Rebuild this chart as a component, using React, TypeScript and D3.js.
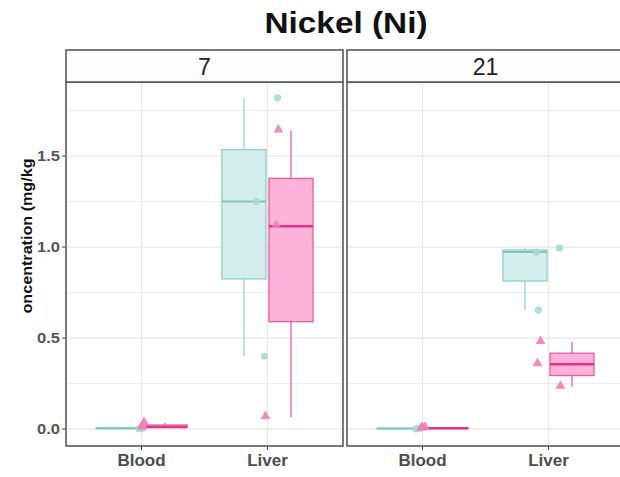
import React from "react";
import * as d3 from "d3";

const title = "Nickel (Ni)";
const yLabel = "oncentration (mg/kg";
const days = ["7", "21"];
const tissues = ["Blood", "Liver"];
const groups = ["A", "B"];
const yTicks = [0, 0.5, 1.0, 1.5];
const yMinor = [0.25, 0.75, 1.25, 1.75];

// values per day / tissue / group
const a7Blood = [0.002, 0.004, 0.006];
const b7Blood = [0.008, 0.012, 0.033];
const a7Liver = [0.4, 1.25, 1.82];
const b7Liver = [0.065, 1.115, 1.64];
const a21Blood = [0.001, 0.003, 0.004];
const b21Blood = [0.002, 0.004, 0.006];
const a21Liver = [0.654, 0.973, 0.995];
const b21Liver = [0.232, 0.356, 0.478];

// jitter (fraction of category step) for each point
const ja7Blood = [-0.02, 0.0, 0.01];
const jb7Blood = [0.0, 0.01, 0.02];
const ja7Liver = [-0.024, -0.087, 0.08];
const jb7Liver = [-0.016, 0.07, 0.087];
const ja21Blood = [-0.055, -0.04, -0.02];
const jb21Blood = [-0.01, 0.0, 0.02];
const ja21Liver = [-0.08, -0.095, 0.087];
const jb21Liver = [0.095, -0.087, -0.063];

const data: Record<string, Record<string, Record<string, number[][]>>> = {
  "7": {
    Blood: { A: [a7Blood, ja7Blood], B: [b7Blood, jb7Blood] },
    Liver: { A: [a7Liver, ja7Liver], B: [b7Liver, jb7Liver] },
  },
  "21": {
    Blood: { A: [a21Blood, ja21Blood], B: [b21Blood, jb21Blood] },
    Liver: { A: [a21Liver, ja21Liver], B: [b21Liver, jb21Liver] },
  },
};

const W = 620;
const H = 477;
const panelTop = 82;
const panelBottom = 446;
const stripTop = 50;
const panelW = 277;
const panelGap = 4;
const panelLeft0 = 66;

const style: Record<string, any> = {
  A: { fill: "#d4eeee", stroke: "#8fcfca", median: "#7ec5bf", point: "#a6d9d4", whisker: "#a8d9d4", medianW: 2 },
  B: { fill: "#ffb2d9", stroke: "#e0609f", median: "#e2338c", point: "#f27db8", whisker: "#e27aaf", medianW: 2.5 },
};

function stats(v: number[]) {
  const s = [...v].sort(d3.ascending);
  const q1 = d3.quantileSorted(s, 0.25)!;
  const med = d3.quantileSorted(s, 0.5)!;
  const q3 = d3.quantileSorted(s, 0.75)!;
  const iqr = q3 - q1;
  const lo = d3.min(s.filter((d) => d >= q1 - 1.5 * iqr))!;
  const hi = d3.max(s.filter((d) => d <= q3 + 1.5 * iqr))!;
  return { q1, med, q3, lo, hi };
}

export default function App() {
  const y = d3.scaleLinear().domain([-0.093, 1.907]).range([panelBottom, panelTop]);
  const x = d3.scalePoint<string>().domain(tissues).range([0, panelW]).padding(0.6);
  const step = x.step();
  const dodge = d3.scaleOrdinal<string, number>().domain(groups).range([-0.187 * step, 0.187 * step]);
  const boxW = 0.35 * step;
  const font = "'Liberation Sans', Arial, sans-serif";
  const grid = "#e8e8e8";
  const border = "#5a5a5a";

  const tri = d3.symbol().type(d3.symbolTriangle).size(42);

  return (
    <svg width={W} height={H} style={{ position: "absolute", left: 0, top: 0, background: "#fff" }} fontFamily={font}>
      <text x={346} y={33} textAnchor="middle" fontSize={29} fontWeight="bold" fill="#111" textLength={163} lengthAdjust="spacingAndGlyphs">
        {title}
      </text>
      <text
        transform={`translate(32,${236}) rotate(-90)`}
        textAnchor="middle"
        fontSize={14}
        fontWeight="bold"
        fill="#111"
        textLength={155}
        lengthAdjust="spacingAndGlyphs"
      >
        {yLabel}
      </text>
      {yTicks.map((t) => (
        <g key={t}>
          <line x1={62} x2={66} y1={y(t)} y2={y(t)} stroke="#444" />
          <text x={60} y={y(t) + 5} textAnchor="end" fontSize={14} fontWeight="bold" fill="#555" textLength={23} lengthAdjust="spacingAndGlyphs">
            {d3.format(".1f")(t)}
          </text>
        </g>
      ))}
      {days.map((day, i) => {
        const px = panelLeft0 + i * (panelW + panelGap);
        return (
          <g key={day} transform={`translate(${px},0)`}>
            <rect x={0} y={panelTop} width={panelW} height={panelBottom - panelTop} fill="#fff" />
            {yMinor.map((t) => (
              <line key={"m" + t} x1={0} x2={panelW} y1={y(t)} y2={y(t)} stroke={grid} strokeWidth={0.8} />
            ))}
            {yTicks.map((t) => (
              <line key={"g" + t} x1={0} x2={panelW} y1={y(t)} y2={y(t)} stroke={grid} strokeWidth={1.2} />
            ))}
            {tissues.map((t) => (
              <line key={t} x1={x(t)} x2={x(t)} y1={panelTop} y2={panelBottom} stroke={grid} strokeWidth={1.2} />
            ))}
            {tissues.map((t) =>
              groups.map((g) => {
                const st = stats(data[day][t][g][0]);
                const cx = x(t)! + dodge(g);
                const s = style[g];
                return (
                  <g key={t + g}>
                    <line x1={cx} x2={cx} y1={y(st.hi)} y2={y(st.q3)} stroke={s.whisker} strokeWidth={1.5} />
                    <line x1={cx} x2={cx} y1={y(st.q1)} y2={y(st.lo)} stroke={s.whisker} strokeWidth={1.5} />
                    <rect
                      x={cx - boxW / 2}
                      y={y(st.q3)}
                      width={boxW}
                      height={Math.max(0.01, y(st.q1) - y(st.q3))}
                      fill={s.fill}
                      stroke={s.stroke}
                      strokeWidth={1.3}
                    />
                    <line x1={cx - boxW / 2} x2={cx + boxW / 2} y1={y(st.med)} y2={y(st.med)} stroke={s.median} strokeWidth={s.medianW} />
                  </g>
                );
              })
            )}
            {tissues.map((t) =>
              groups.map((g) => {
                const [vals, jit] = data[day][t][g];
                const s = style[g];
                return vals.map((v, k) => {
                  const cx = x(t)! + jit[k] * step;
                  return g === "A" ? (
                    <circle key={t + g + k} cx={cx} cy={y(v)} r={3.6} fill={s.point} opacity={0.9} />
                  ) : (
                    <path key={t + g + k} d={tri()!} transform={`translate(${cx},${y(v) - 1})`} fill={s.point} opacity={0.9} />
                  );
                });
              })
            )}
            <rect x={0} y={panelTop} width={panelW} height={panelBottom - panelTop} fill="none" stroke={border} strokeWidth={1.6} />
            <rect x={0} y={stripTop} width={panelW} height={panelTop - stripTop} fill="#fdfdfd" stroke={border} strokeWidth={1.6} />
            <text x={panelW / 2} y={75} textAnchor="middle" fontSize={23} fill="#222">
              {day}
            </text>
            {tissues.map((t) => (
              <g key={"x" + t}>
                <line x1={x(t)} x2={x(t)} y1={panelBottom} y2={panelBottom + 4} stroke="#444" />
                <text x={x(t)} y={466} textAnchor="middle" fontSize={17} fontWeight="bold" fill="#4d4d4d">
                  {t}
                </text>
              </g>
            ))}
          </g>
        );
      })}
    </svg>
  );
}
